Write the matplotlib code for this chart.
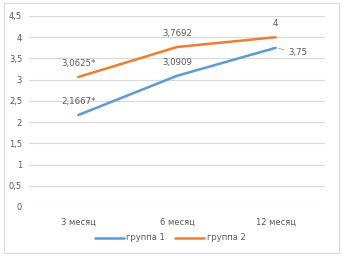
import matplotlib
matplotlib.use("Agg")
import matplotlib.pyplot as plt
from matplotlib.patches import Rectangle

categories = ["3 месяц", "6 месяц", "12 месяц"]
group1 = [2.1667, 3.0909, 3.75]
group2 = [3.0625, 3.7692, 4.0]
labels1 = ["2,1667*", "3,0909", "3,75"]
labels2 = ["3,0625*", "3,7692", "4"]
yticks = [0, 0.5, 1, 1.5, 2, 2.5, 3, 3.5, 4, 4.5]
ytick_labels = ["0", "0,5", "1", "1,5", "2", "2,5", "3", "3,5", "4", "4,5"]

blue = "#5B9BD5"
orange = "#ED7D31"
txt = "#595959"
grid = "#D9D9D9"

fig = plt.figure(figsize=(3.43, 2.58), dpi=100)
fig.patches.append(Rectangle((4/343, 5/258), 335/343, 250/258, transform=fig.transFigure,
                             fill=False, edgecolor="#D9D9D9", linewidth=0.8))
ax = fig.add_axes([29/343, 1-207/258, 296/343, 191/258])
x = list(range(len(categories)))
ax.plot(x, group1, color=blue, lw=1.8, label="группа 1", solid_capstyle="round")
ax.plot(x, group2, color=orange, lw=1.8, label="группа 2", solid_capstyle="round")
ax.set_xlim(-0.5, 2.5)
ax.set_ylim(0, 4.5)
ax.set_yticks(yticks)
ax.set_yticklabels(ytick_labels)
ax.set_xticks(x)
ax.set_xticklabels(categories)
ax.tick_params(axis="both", length=0, labelsize=6, colors=txt, pad=5)
ax.tick_params(axis="x", pad=8)
ax.grid(axis="y", color=grid, lw=0.8)
ax.set_axisbelow(True)
for s in ax.spines.values():
    s.set_visible(False)

fs = 6.2
for i in range(2):
    ax.annotate(labels1[i], (x[i], group1[i]), xytext=(0, 6.5), textcoords="offset points",
                ha="center", va="bottom", fontsize=fs, color=txt)
ax.annotate(labels1[2], (x[2], group1[2]), xytext=(9, -3.5), textcoords="offset points",
            ha="left", va="center", fontsize=fs, color=txt,
            arrowprops=dict(arrowstyle="-", color="#A6A6A6", lw=0.6, shrinkA=1, shrinkB=2))
for i in range(3):
    ax.annotate(labels2[i], (x[i], group2[i]), xytext=(0, 6.5), textcoords="offset points",
                ha="center", va="bottom", fontsize=fs, color=txt)

leg = fig.legend(loc="center", bbox_to_anchor=(170/343, 1-238/258), ncol=2, frameon=False,
                 fontsize=6, handlelength=3.5, handletextpad=0.3, columnspacing=1.2)
for t in leg.get_texts():
    t.set_color(txt)

fig.savefig("out.png", dpi=100)
